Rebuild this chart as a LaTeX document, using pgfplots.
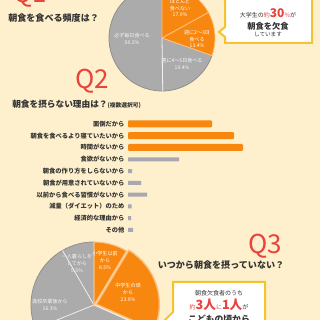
\documentclass[border=0pt]{standalone}
\usepackage{pgfplots}
\pgfplotsset{compat=1.18}
\usepackage{fontspec}
\setmainfont{Noto Sans CJK JP}
\definecolor{bg}{HTML}{FEF0CC}
\definecolor{qred}{HTML}{E8433D}
\definecolor{org}{HTML}{F7870F}
\definecolor{orgl}{HTML}{FBC080}
\definecolor{pg}{HTML}{ABABAB}
\definecolor{pgd}{HTML}{8F8F8F}
\definecolor{barg}{HTML}{A8A8B0}
\definecolor{ylw}{HTML}{F5C330}
\definecolor{txt}{HTML}{333333}
\newcommand{\fs}[1]{\fontsize{#1}{#1}\selectfont}
\begin{document}
\begin{tikzpicture}[x=0.75pt,y=0.75pt]
\useasboundingbox (0,0) rectangle (320,320);
\clip (0,0) rectangle (320,320);
\fill[bg] (0,0) rectangle (320,320);

% ---------- Q1 pie ----------
\begin{scope}[shift={(162,282)}]
\fill[pg] (0,0) -- (90:53) arc[start angle=90, end angle=270.8, radius=53] -- cycle;
\fill[pg] (0,0) -- (-89.2:53) arc[start angle=-89.2, end angle=-19.4, radius=53] -- cycle;
\fill[org] (0,0) -- (-19.4:53) arc[start angle=-19.4, end angle=28.8, radius=53] -- cycle;
\fill[org] (0,0) -- (28.8:53) arc[start angle=28.8, end angle=90, radius=53] -- cycle;
\draw[pgd, line width=0.6pt] (-19.4:53) arc[start angle=-19.4, end angle=-270, radius=53];
\draw[orgl, line width=0.6pt] (-19.4:53) arc[start angle=-19.4, end angle=90, radius=53];
\draw[orgl, line width=0.7pt] (0,0) -- (28.8:53) (0,0) -- (-19.4:53) (0,0) -- (90:53);
\draw[white!85!pg, line width=0.6pt] (0,0) -- (-89.2:53);
\end{scope}
\begin{scope}[every node/.style={align=center, text=white, font=\fontsize{3.8}{5.2}\selectfont}]
\node at (180,312) {ほとんど\\食べない\\17.0\%};
\node at (197,281) {週に2〜3日\\食べる\\13.4\%};
\node[text=white!90!pg] at (182,256) {週に4〜5日食べる\\19.4\%};
\node[text=white!90!pg] at (132,281) {必ず毎日食べる\\50.2\%};
\end{scope}

% Q1 callout
\draw[ylw, fill=white, line width=1.5pt, line join=miter]
  (225,330) -- (312,330) -- (312,277) -- (225,277) -- (225,283) -- (219,288) -- (225,293) -- cycle;
\node[text=txt, font=\fs{4.5}, anchor=base] at (268,302) {大学生の{\color{qred}約{\fs{9}\bfseries 30}\%}が};
\node[text=txt, font=\fs{6.2}\bfseries] at (268,294) {朝食を欠食};
\node[text=txt, font=\fs{4.2}] at (268,286) {しています};

% headings
\node[text=qred, font=\fs{19.5}, anchor=base] at (30,317) {Q1};
\node[text=txt, font=\fs{6.8}\bfseries, anchor=west, inner sep=0pt] at (8,302) {朝食を食べる頻度は？};
\node[text=qred, font=\fs{19.5}, anchor=base] at (92,231) {Q2};
\node[text=txt, font=\fs{6.5}\bfseries, anchor=west, inner sep=0pt] at (12,216) {朝食を摂らない理由は？{\fs{4.3}(複数選択可)}};
\node[text=qred, font=\fs{19.5}, anchor=base] at (265,66) {Q3};
\node[text=txt, font=\fs{6.8}\bfseries] at (221,55) {いつから朝食を摂っていない？};

% ---------- Q2 bars ----------
\begin{axis}[
  at={(96pt,151.5pt)}, anchor=north west,
  scale only axis, width=129pt, height=88.4pt,
  xmin=0, xmax=172, ymin=-0.5, ymax=9.5, y dir=reverse,
  axis line style={draw=none}, tick style={draw=none},
  xtick=\empty, ytick={0,...,9},
  yticklabels={面倒だから, 朝食を食べるより寝ていたいから, 時間がないから, 食欲がないから, 朝食の作り方をしらないから, 朝食が用意されていないから, 以前から食べる習慣がないから, 減量（ダイエット）のため, 経済的な理由から, その他},
  yticklabel style={font=\fontsize{4.7}{5}\selectfont\bfseries, text=txt, inner sep=0pt, xshift=-2.5pt},
  clip=false,
]
\addplot[xbar, bar shift=0pt, fill=org, draw=none, bar width=5.25pt, rounded corners=0.8pt] coordinates {(84,0) (106,1) (115,2)};
\addplot[xbar, bar shift=0pt, fill=barg, draw=none, bar width=3pt] coordinates {(51,3) (4,4) (13,5) (19,6) (3.5,7) (3,8) (5,9)};
\end{axis}

% ---------- Q3 pie ----------
\begin{scope}[shift={(94,15)}]
\fill[pg] (0,0) -- (90:63) arc[start angle=90, end angle=336, radius=63] -- cycle;
\draw[pgd, line width=0.6pt] (90:63) arc[start angle=90, end angle=336, radius=63];
\draw[white!80!pg, line width=0.6pt] (0,0) -- (120:63) (0,0) -- (202:63) (0,0) -- (336:63);
\fill[org, draw=orgl, line width=0.8pt] (0,0) -- (59:63) arc[start angle=59, end angle=90, radius=63] -- cycle;
\begin{scope}[shift={(17.5:2.5)}]
\fill[org, draw=orgl, line width=1pt] (0,0) -- (-24:63) arc[start angle=-24, end angle=59, radius=63] -- cycle;
\end{scope}
\end{scope}
\begin{scope}[every node/.style={align=center, text=white, font=\fontsize{3.8}{5.2}\selectfont}]
\node at (105,60) {小学生以前\\から\\8.5\%};
\node at (128,28) {中学生の頃\\から\\23.0\%};
\node[text=white!90!pg] at (77,57) {一人暮らしを\\してから\\5.5\%};
\node[text=white!90!pg] at (50,15) {高校卒業後から\\16.3\%};
\end{scope}

% Q3 callout
\draw[ylw, fill=white, line width=1.5pt, line join=miter]
  (173,-10) -- (173,-2) -- (160,-5) -- (173,8) -- (173,38) -- (265,38) -- (265,-10) -- cycle;
\node[text=txt, font=\fs{4.5}] at (219,27) {朝食欠食者のうち};
\node[text=txt, font=\fs{4.5}, anchor=base] at (219,10) {{\color{qred}約{\fs{9.5}\bfseries 3人}に{\fs{9.5}\bfseries 1人}}が};
\node[text=txt, font=\fs{6.6}\bfseries] at (219,1) {こどもの頃から};
\end{tikzpicture}
\end{document}
